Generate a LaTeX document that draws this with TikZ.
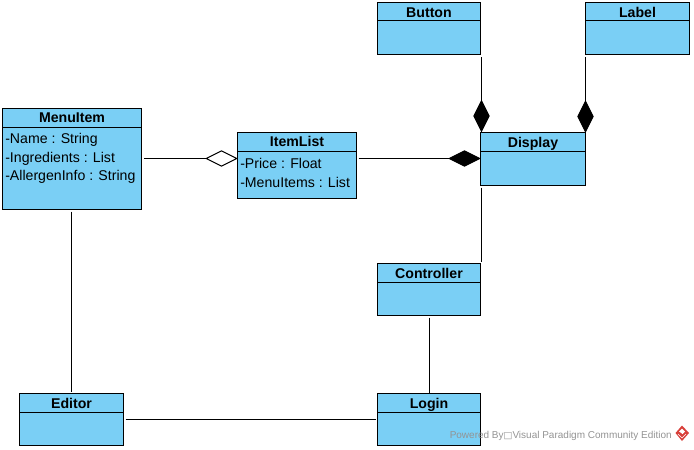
\documentclass[tikz,border=0pt]{standalone}
\usepackage{fontspec}
\setmainfont{Liberation Sans}
\newfontfamily\symfont{DejaVu Sans}
\usetikzlibrary{shapes.geometric}
\definecolor{umlfill}{HTML}{7ACFF5}
\definecolor{wmgray}{HTML}{939393}
\definecolor{wmred}{HTML}{D8403A}
\tikzset{
  px/.style={x=0.75pt,y=-0.75pt},
  umlbox/.style={draw=black,line width=0.8pt,fill=umlfill,anchor=north west,inner sep=0pt,outer sep=0pt},
  umltitle/.style={font=\bfseries\fontsize{10.6pt}{12pt}\selectfont,text=black,inner sep=0pt,anchor=base},
  umlattr/.style={font=\fontsize{10.6pt}{12pt}\selectfont,text=black,inner sep=0pt,anchor=base west},
  divider/.style={draw=black,line width=0.8pt},
  assoc/.style={draw=black,line width=0.75pt},
  hollowd/.style={diamond,draw=black,fill=white,line width=0.75pt,inner sep=0pt,minimum width=23.25pt,minimum height=11.75pt,aspect=2},
  solidd/.style={diamond,draw=black,fill=black,line width=0.75pt,inner sep=0pt,minimum width=23.25pt,minimum height=11.75pt,aspect=2},
  solidv/.style={diamond,draw=black,fill=black,line width=0.75pt,inner sep=0pt,minimum width=11.75pt,minimum height=23.25pt,aspect=0.5},
  watermark/.style={font=\fontsize{7.5pt}{9pt}\selectfont,text=wmgray,inner sep=0pt,anchor=base west},
}
\newcommand{\umlclass}[8]{%
  % name, left, top, right, bottom, divider y, title y, title
  \node[umlbox,minimum width={(#4-#2)*0.75pt},minimum height={(#5-#3)*0.75pt}] (#1) at (#2,#3) {};
  \draw[divider] (#2,#6) -- (#4,#6);
  \node[umltitle] (#1title) at ({(#2+#4)/2},#7) {#8};
}
\begin{document}
\begin{tikzpicture}[px]
\useasboundingbox (0,0) rectangle (694,450);
\umlclass{menuitem}{2.5}{108.5}{141.5}{209.5}{127.5}{122}{MenuItem}
\umlclass{itemlist}{237.5}{132.5}{356.5}{198.5}{151.5}{146}{ItemList}
\umlclass{button}{377.5}{2.5}{480.5}{54.5}{20.5}{17}{Button}
\umlclass{label}{585.5}{2.5}{689.5}{54.5}{20.5}{17}{Label}
\umlclass{display}{480.5}{132.5}{585.5}{185.5}{151.5}{147}{Display}
\umlclass{controller}{377.5}{263.5}{480.5}{315.5}{282.5}{278}{Controller}
\umlclass{editor}{19.5}{393.5}{123.5}{445.5}{412.5}{408}{Editor}
\umlclass{login}{377.5}{393.5}{480.5}{445.5}{412.5}{408}{Login}

\node[umlattr] (a1) at (5,143) {-Name : String};
\node[umlattr] (a2) at (5,162) {-Ingredients : List};
\node[umlattr] (a3) at (5,180) {-AllergenInfo : String};
\node[umlattr] (b1) at (240,168) {-Price : Float};
\node[umlattr] (b2) at (240,187) {-MenuItems : List};

% aggregation / composition diamonds
\node[hollowd] (dmenu) at (221.5,158.5) {};
\node[solidd] (ditem) at (464.5,158.5) {};
\node[solidv] (dbutton) at (481.5,116) {};
\node[solidv] (dlabel) at (585.5,116.5) {};

% connectors
\draw[assoc,shorten <=2pt] (menuitem.east |- dmenu) -- (dmenu.west);
\draw[assoc,shorten <=1.5pt] (itemlist.east |- ditem) -- (ditem.west);
\draw[assoc,shorten <=2pt] (dbutton |- button.south) -- (dbutton.north);
\draw[assoc,shorten <=2pt] (dlabel |- label.south) -- (dlabel.north);
\draw[assoc,shorten <=1.5pt,shorten >=1.5pt] (dbutton |- display.south) -- (dbutton |- controller.north);
\draw[assoc,shorten <=1.5pt,shorten >=1.5pt] (editor.north |- menuitem.south) -- (editor.north);
\draw[assoc,shorten <=1.5pt] (login.north |- controller.south) -- (login.north);
\draw[assoc,shorten <=1.5pt,shorten >=1.5pt] (editor.east) -- (login.west);

% watermark
\node[watermark] (wm) at (449.5,438) {Powered By{\symfont\fontsize{7pt}{8pt}\selectfont □}Visual Paradigm Community Edition};
\fill[wmred] (682,425.5) -- (689,433) -- (682,441) -- (675.5,433) -- cycle;
\fill[white] (679,431.5) -- (682,428.5) -- (685,431.5) -- (682.5,434) -- (681,432.8) -- cycle;
\draw[white,line width=0.5pt] (678,434) -- (682,438) -- (686,434);
\end{tikzpicture}
\end{document}
